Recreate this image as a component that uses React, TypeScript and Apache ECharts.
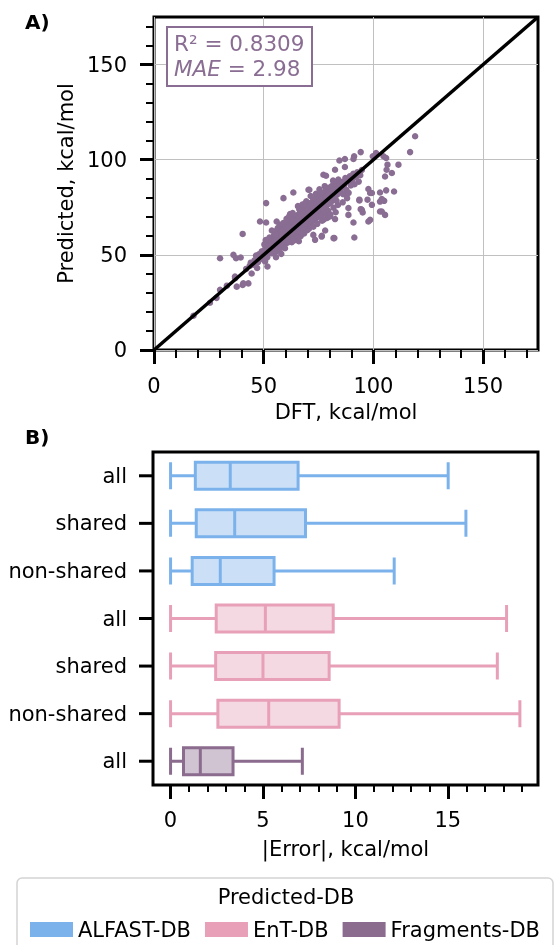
import React, { useEffect, useRef } from "react";
import * as echarts from "echarts";

// ---------- Panel A data (DFT vs Predicted, kcal/mol) ----------
const scatterCore: number[][] = [
  [45.2,44.8],[45.8,47.1],[46.3,45.5],[46.9,48.9],[47.4,46.2],[47.8,50.3],[48.2,47.6],[48.6,49.4],[49.1,51.8],[49.5,48.1],[49.9,50.7],[46.5,49.6],[44.1,45.9],[43.6,44.2],
  [50.2,52.4],[50.5,49.3],[50.8,54.6],[51.1,51.2],[51.4,56.1],[51.7,53.3],[52.0,50.4],[52.2,55.8],[52.5,52.7],[52.8,57.9],[53.1,54.2],[53.3,51.6],[53.6,56.7],[53.9,53.8],[54.1,58.6],[54.4,55.3],[54.7,52.9],[54.9,57.2],[50.9,57.8],[52.6,59.1],[51.6,48.7],[53.8,50.8],[54.6,60.2],[55.0,54.9],[50.3,55.5],
  [55.2,57.6],[55.4,53.6],[55.7,59.8],[55.9,56.2],[56.1,61.4],[56.3,55.1],[56.6,58.3],[56.8,62.7],[57.0,57.1],[57.2,60.4],[57.5,54.8],[57.7,59.2],[57.9,63.6],[58.1,56.9],[58.3,61.1],[58.6,58.4],[58.8,64.5],[59.0,57.7],[59.2,62.3],[59.5,60.1],[59.7,55.9],[59.9,65.2],[55.6,62.5],[56.4,64.1],[57.3,65.8],[58.4,53.9],[59.3,54.6],[56.9,52.8],[55.8,51.9],[58.9,66.7],[57.6,61.8],[56.0,58.9],[59.6,63.4],[58.0,60.0],[55.3,60.7],
  [60.1,62.4],[60.3,58.6],[60.5,64.8],[60.7,61.1],[60.9,66.3],[61.1,59.7],[61.3,63.5],[61.5,67.6],[61.7,60.8],[61.9,65.1],[62.1,57.9],[62.3,63.0],[62.5,68.4],[62.7,61.6],[62.9,66.0],[63.1,59.2],[63.3,64.7],[63.5,69.1],[63.7,62.3],[63.9,67.2],[64.1,60.4],[64.3,65.6],[64.5,70.3],[64.7,63.1],[64.9,67.9],[60.4,68.9],[61.6,70.2],[62.8,56.7],[63.8,57.6],[64.4,58.9],[60.8,56.4],[62.0,71.5],[63.2,72.0],[61.2,64.4],[64.0,64.2],
  [65.1,68.6],[65.3,63.7],[65.5,70.9],[65.7,66.2],[65.9,61.8],[66.1,69.4],[66.3,64.9],[66.5,72.1],[66.7,67.3],[66.9,62.6],[67.1,70.6],[67.3,65.8],[67.5,73.4],[67.7,68.7],[67.9,63.9],[68.1,71.8],[68.3,66.9],[68.5,74.2],[68.7,69.5],[68.9,64.6],[69.1,72.7],[69.3,67.8],[69.5,75.1],[69.7,70.3],[69.9,65.4],[65.6,75.6],[66.8,59.8],[67.6,76.4],[68.4,61.2],[69.4,78.2],[66.2,74.0],[67.2,60.9],[68.8,77.0],[65.4,59.1],[69.8,62.9],
  [70.1,73.6],[70.3,68.2],[70.5,76.1],[70.7,71.4],[70.9,66.7],[71.1,74.8],[71.3,69.9],[71.5,77.3],[71.7,72.6],[71.9,67.5],[72.1,75.7],[72.3,70.8],[72.5,78.6],[72.7,73.9],[72.9,68.4],[73.1,76.8],[73.3,71.7],[73.5,79.5],[73.7,74.6],[73.9,69.2],[74.1,77.6],[74.3,72.5],[74.5,80.4],[74.7,75.3],[74.9,70.1],[71.4,80.9],[72.6,64.8],[73.8,82.1],[74.4,66.3],[70.6,63.7],
  [75.2,78.3],[75.5,73.1],[75.8,81.2],[76.1,76.0],[76.4,70.8],[76.7,79.4],[77.0,74.2],[77.3,82.6],[77.6,77.3],[77.9,71.9],[78.2,80.5],[78.5,75.4],[78.8,83.7],[79.1,78.6],[79.4,73.2],[79.7,81.9],[75.4,84.5],[76.6,67.9],[77.8,86.1],[78.9,69.4],[79.6,76.7],[76.0,82.9],[77.4,68.6],[78.4,84.9],[79.9,85.3],
  [80.2,83.1],[80.6,77.6],[81.0,86.2],[81.4,80.3],[81.8,74.8],[82.2,84.4],[82.6,79.1],[83.0,87.3],[83.4,81.6],[83.8,76.2],[84.2,85.5],[84.6,82.8],[80.4,71.2],[81.6,89.0],[82.8,72.4],[84.0,89.6],[83.2,78.4],[84.8,86.9],
  [85.2,84.7],[85.7,88.3],[86.2,81.9],[86.7,86.8],[87.2,90.4],[87.7,84.1],[88.2,88.9],[88.7,82.6],[89.2,91.3],[89.7,86.5],[86.0,77.6],[88.0,79.8],
  [90.3,89.2],[90.8,92.6],[91.4,87.1],[92.0,90.8],[92.6,93.4],[93.3,88.5],[94.0,91.9],[94.7,94.6]
];

const scatterOutliers: number[][] = [
  [119.0,112.3],[116.7,104.0],[111.4,97.4],[94.2,104.0],[91.2,101.8],[99.7,101.8],[101.2,103.5],[104.6,101.8],[105.8,100.9],
  [106.4,97.4],[106.0,94.7],[108.4,93.0],[105.3,91.2],[109.4,83.3],[105.8,83.9],[103.0,82.8],[97.7,84.6],[98.5,82.5],
  [93.6,79.0],[97.3,79.0],[94.2,74.0],[95.1,72.3],[103.0,78.0],[104.9,78.4],[103.0,72.8],[105.3,71.0],[98.5,68.4],
  [97.7,67.5],[90.9,67.0],[91.3,59.1],[88.6,74.6],[88.6,71.0],[84.5,99.6],[87.0,100.4],[90.9,100.4],[87.0,96.2],
  [77.2,92.1],[78.4,91.6],[82.5,94.7],[86.3,87.7],[63.5,82.8],[59.0,79.8],[70.4,84.2],[70.8,84.2],[51.1,77.2],
  [48.3,67.5],[51.1,67.0],[55.9,67.5],[53.7,62.8],[40.4,61.0],[30.1,48.2],[36.2,50.0],[37.4,48.2],[39.5,48.6],
  [43.0,35.0],[40.4,34.2],[37.7,33.3],[37.0,37.7],[36.9,38.6],[40.7,35.1],[30.1,31.6],[50.6,46.5],[51.7,43.9],
  [55.6,48.8],[82.2,58.8],[81.8,58.8],[76.4,59.6],[78.0,62.8],[76.5,60.0],[72.6,60.5],[73.4,57.9],[80.2,70.2],
  [82.5,68.8],[63.5,57.9],[59.7,53.5],[18.0,18.0],[25.5,24.8],[28.5,27.4],[33.2,33.8],[42.0,42.6],[44.5,40.2],
  [47.0,43.1],[58.0,50.5],[66.0,57.2],[99.3,76.3],[99.3,82.5],[93.6,78.6],[94.7,73.7],[103.8,79.3],[103.8,72.8]
];

const identityLine: number[][] = [[0, 0], [175, 175]];

const panelAMajor = [0, 50, 100, 150];
const panelAMinor = [10, 20, 30, 40, 60, 70, 80, 90, 110, 120, 130, 140, 160, 170];
const r2Text = "R² = 0.8309";
const maeValue = "2.98";

// ---------- Panel B data (|Error|, kcal/mol) ----------
const rowLabels = ["all", "shared", "non-shared", "all", "shared", "non-shared", "all"];
const rowGroup = [0, 0, 0, 1, 1, 1, 2];
// [min, Q1, median, Q3, max]
const boxStats: number[][] = [
  [0, 1.34, 3.23, 6.9, 15.02],
  [0, 1.39, 3.47, 7.3, 15.98],
  [0, 1.17, 2.69, 5.6, 12.1],
  [0, 2.47, 5.13, 8.8, 18.18],
  [0, 2.44, 5.0, 8.58, 17.68],
  [0, 2.56, 5.31, 9.12, 18.9],
  [0, 0.7, 1.61, 3.38, 7.13]
];
const groupNames = ["ALFAST-DB", "EnT-DB", "Fragments-DB"];
const groupEdge = ["#7cb2ec", "#e8a0b8", "#8b6b8e"];
const groupFill = ["#cbe0f7", "#f4d9e3", "#d1c4d2"];
const panelBMajor = [0, 5, 10, 15];
const panelBMinor = [1, 2, 3, 4, 6, 7, 8, 9, 11, 12, 13, 14, 16, 17, 18, 19];
const panelBMin = -0.95;
const panelBMax = 19.88;

const FONT = "DejaVu Sans";
const PURPLE = "#8a6d92";

// layout of panel B (pixels)
const B_LEFT = 153;
const B_TOP = 452;
const B_WIDTH = 385;
const B_HEIGHT = 333;

export default function App() {
  const ref = useRef<HTMLDivElement>(null);

  useEffect(() => {
    if (!ref.current) return;
    const chart = echarts.init(ref.current, null, { renderer: "svg" });

    const majorTick = (vals: number[], len: number) => ({
      show: true,
      customValues: vals,
      length: len,
      lineStyle: { color: "#000", width: 3 }
    });
    const minorTick = (vals: number[], len: number) => ({
      show: true,
      customValues: vals,
      length: len,
      lineStyle: { color: "#000", width: 2 }
    });
    const labelStyle = { color: "#000", fontSize: 21, fontFamily: FONT };
    const noLine = () => ({ show: false, onZero: false });
    const ROW_TICK_LEN = 14;
    const rowStep = B_HEIGHT / rowLabels.length;

    // row ticks on the left spine of panel B, at each category's band centre
    const rowTicks = rowLabels.map((_, i) => ({
      type: "line",
      z: 100,
      shape: {
        x1: B_LEFT - ROW_TICK_LEN,
        y1: B_TOP + rowStep * (i + 0.5),
        x2: B_LEFT,
        y2: B_TOP + rowStep * (i + 0.5)
      },
      style: { stroke: "#000", lineWidth: 3 }
    }));

    const option: any = {
      animation: false,
      textStyle: { fontFamily: FONT },
      grid: [
        { left: 154, top: 17, width: 384, height: 333, show: true, borderColor: "#000", borderWidth: 3, backgroundColor: "transparent" },
        { left: B_LEFT, top: B_TOP, width: B_WIDTH, height: B_HEIGHT, show: true, borderColor: "#000", borderWidth: 3, backgroundColor: "transparent" }
      ],
      xAxis: [
        {
          type: "value", gridIndex: 0, min: 0, max: 175, interval: 50, position: "bottom",
          name: "DFT, kcal/mol", nameLocation: "middle", nameGap: 51,
          nameTextStyle: { ...labelStyle },
          axisLine: noLine(),
          axisTick: majorTick(panelAMajor, 14),
          axisLabel: { ...labelStyle, customValues: panelAMajor, margin: 25 },
          splitLine: { show: true, lineStyle: { color: "#c0c0c0", width: 1 } }
        },
        {
          type: "value", gridIndex: 0, min: 0, max: 175, position: "bottom",
          axisLine: noLine(), axisLabel: { show: false }, splitLine: { show: false },
          axisTick: minorTick(panelAMinor, 8)
        },
        {
          type: "value", gridIndex: 1, min: panelBMin, max: panelBMax, position: "bottom",
          name: "|Error|, kcal/mol", nameLocation: "middle", nameGap: 53,
          nameTextStyle: { ...labelStyle },
          axisLine: noLine(),
          axisTick: majorTick(panelBMajor, 14),
          axisLabel: { ...labelStyle, customValues: panelBMajor, margin: 24 },
          splitLine: { show: false }
        },
        {
          type: "value", gridIndex: 1, min: panelBMin, max: panelBMax, position: "bottom",
          axisLine: noLine(), axisLabel: { show: false }, splitLine: { show: false },
          axisTick: minorTick(panelBMinor, 7)
        }
      ],
      yAxis: [
        {
          type: "value", gridIndex: 0, min: 0, max: 175, interval: 50, position: "left",
          name: "Predicted, kcal/mol", nameLocation: "middle", nameGap: 78, nameRotate: 90,
          nameTextStyle: { ...labelStyle },
          axisLine: noLine(),
          axisTick: majorTick(panelAMajor, 14),
          axisLabel: { ...labelStyle, customValues: panelAMajor, margin: 27 },
          splitLine: { show: true, lineStyle: { color: "#c0c0c0", width: 1 } }
        },
        {
          type: "value", gridIndex: 0, min: 0, max: 175, position: "left",
          axisLine: noLine(), axisLabel: { show: false }, splitLine: { show: false },
          axisTick: minorTick(panelAMinor, 8)
        },
        {
          type: "category", gridIndex: 1, inverse: true, position: "left",
          data: rowLabels.map((_, i) => String(i)),
          axisLine: noLine(),
          axisTick: { show: false },
          axisLabel: { ...labelStyle, margin: 26, formatter: (v: string) => rowLabels[Number(v)] },
          splitLine: { show: false }
        }
      ],
      legend: {
        left: 25, top: 914, icon: "rect", itemWidth: 43, itemHeight: 15, itemGap: 14,
        textStyle: { ...labelStyle },
        data: groupNames.map((n, i) => ({ name: n, itemStyle: { color: groupEdge[i], borderWidth: 0 } })),
        selectedMode: false
      },
      series: [
        {
          type: "scatter", xAxisIndex: 0, yAxisIndex: 0,
          data: [...scatterCore, ...scatterOutliers],
          symbolSize: 6.5,
          itemStyle: { color: PURPLE, opacity: 1 },
          z: 2
        },
        {
          type: "line", xAxisIndex: 0, yAxisIndex: 0,
          data: identityLine, symbol: "none",
          lineStyle: { color: "#000", width: 3.5 },
          z: 3
        },
        {
          type: "boxplot", xAxisIndex: 2, yAxisIndex: 2,
          boxWidth: [27, 27],
          data: boxStats.map((s, i) => ({
            value: s,
            itemStyle: { color: groupFill[rowGroup[i]], borderColor: groupEdge[rowGroup[i]], borderWidth: 3 }
          }))
        },
        ...groupNames.map((n, i) => ({
          type: "bar", name: n, xAxisIndex: 2, yAxisIndex: 2, data: [],
          itemStyle: { color: groupEdge[i] }
        }))
      ],
      graphic: [
        { type: "text", left: 25, top: 12, style: { text: "A)", font: `bold 20px '${FONT}'`, fill: "#000" } },
        { type: "text", left: 25, top: 427, style: { text: "B)", font: `bold 20px '${FONT}'`, fill: "#000" } },
        {
          type: "rect", shape: { x: 167, y: 27, width: 145, height: 59 },
          style: { fill: "#fff", stroke: PURPLE, lineWidth: 2 }, z: 10
        },
        {
          type: "text", x: 174, y: 43, z: 11,
          style: { text: r2Text, fontSize: 21.5, fontFamily: FONT, fill: PURPLE, verticalAlign: "middle" }
        },
        {
          type: "text", x: 174, y: 68, z: 11,
          style: {
            text: `{i|MAE}{n| = ${maeValue}}`,
            verticalAlign: "middle",
            rich: {
              i: { fontSize: 21.5, fontFamily: FONT, fontStyle: "italic", fill: PURPLE, color: PURPLE },
              n: { fontSize: 21.5, fontFamily: FONT, fill: PURPLE, color: PURPLE }
            }
          }
        },
        {
          type: "rect", shape: { x: 17, y: 878, width: 536, height: 80, r: 5 },
          style: { fill: "#fff", stroke: "#d4d4d4", lineWidth: 1.5 }, z: 0
        },
        {
          type: "text", x: 286, y: 897, z: 1,
          style: { text: "Predicted-DB", fontSize: 21, fontFamily: FONT, fill: "#000", align: "center", verticalAlign: "middle" }
        },
        ...rowTicks
      ]
    };

    chart.setOption(option);
    return () => chart.dispose();
  }, []);

  return <div ref={ref} style={{ position: "fixed", left: 0, top: 0, width: 555, height: 945 }} />;
}
